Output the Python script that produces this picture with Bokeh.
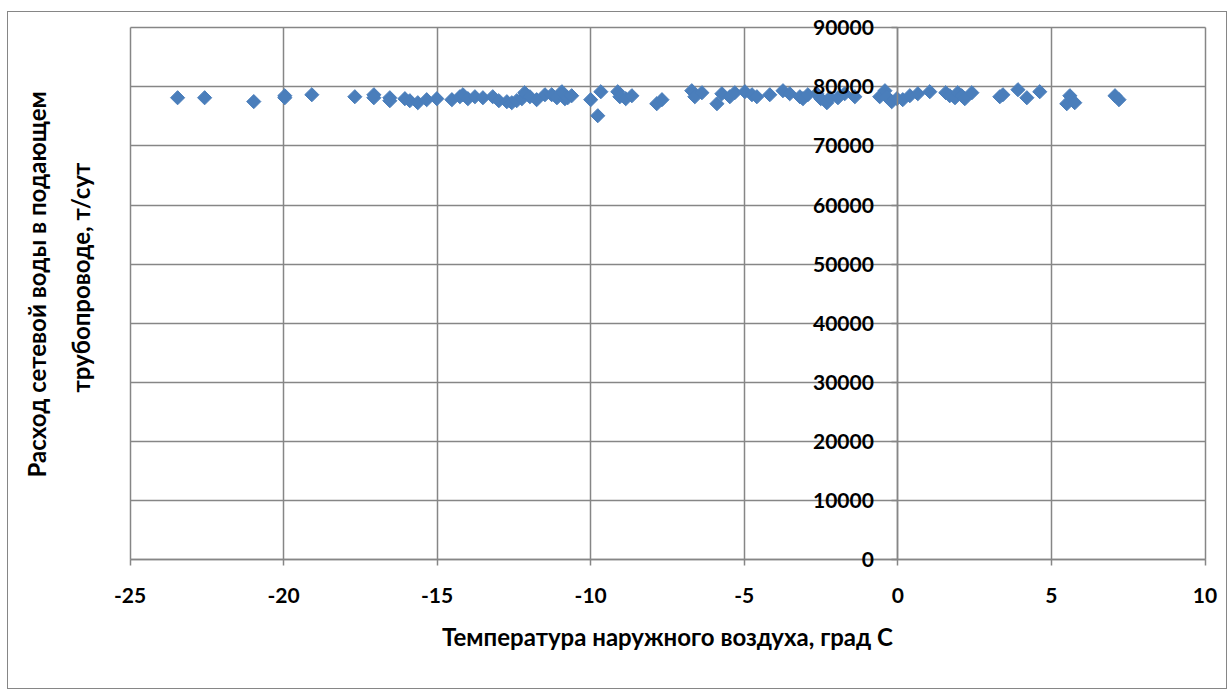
from bokeh.plotting import figure
from bokeh.models import LinearAxis, FixedTicker, Range1d, NumeralTickFormatter, Title
from bokeh.embed import file_html
from bokeh.resources import INLINE

temperature = [
    -23.45, -22.57, -20.97, -19.96, -19.96, -19.08, -17.68, -17.06, -17.06, -16.54,
    -16.54, -16.05, -15.89, -15.63, -15.34, -15.01, -14.52, -14.26, -14.16, -14.0,
    -13.77, -13.51, -13.19, -12.99, -12.73, -12.57, -12.41, -12.24, -12.15, -11.98,
    -11.76, -11.49, -11.27, -11.1, -10.94, -10.84, -10.75, -10.62, -10.0, -9.77,
    -9.67, -9.12, -9.05, -8.86, -8.66, -7.85, -7.68, -6.71, -6.61, -6.38,
    -5.89, -5.73, -5.47, -5.31, -4.98, -4.75, -4.59, -4.17, -3.74, -3.52,
    -3.19, -3.09, -2.93, -2.64, -2.51, -2.31, -2.21, -1.95, -1.73, -1.40,
    -0.59, -0.42, -0.36, -0.20, -0.03, 0.16, 0.39, 0.65, 1.04, 1.56,
    1.69, 1.86, 1.95, 2.08, 2.18, 2.41, 3.32, 3.42, 3.91, 4.20,
    4.62, 5.50, 5.60, 5.76, 7.07, 7.20,
]
flow = [
    78150, 78150, 77500, 78490, 78150, 78660, 78320, 78660, 78150, 78150,
    77650, 77990, 77650, 77310, 77820, 77990, 77820, 78320, 78660, 77990,
    78320, 78150, 78320, 77650, 77480, 77310, 77650, 77990, 79000, 78320,
    77820, 78660, 78660, 78150, 79170, 77990, 78150, 78490, 77820, 75110,
    79170, 79170, 78320, 77990, 78490, 77140, 77820, 79340, 78320, 79000,
    77140, 78830, 78320, 79000, 79170, 78660, 78320, 78660, 79340, 78830,
    78320, 77990, 78660, 78830, 77990, 77310, 78150, 78150, 78830, 78320,
    78320, 79340, 78320, 77480, 77990, 77820, 78490, 78830, 79170, 79000,
    78490, 78150, 79000, 78490, 77990, 79000, 78320, 78660, 79510, 78150,
    79170, 77140, 78490, 77310, 78490, 77820,
]

x_min, x_max = -25, 10
y_min, y_max = 0, 90000
x_ticks = [-25, -20, -15, -10, -5, 0, 5, 10]
y_ticks = [0, 10000, 20000, 30000, 40000, 50000, 60000, 70000, 80000, 90000]

x_title = "Температура наружного воздуха, град С"
y_title_lines = ["Расход сетевой воды в подающем", "трубопроводе, т/сут"]

GRAY = "#868686"
FONT = "Lato"

# the frame is a little larger than the gridded area so that the axes
# crossing inside it (at x = 0 and y = 0) keep their labels visible
p = figure(
    frame_width=1118, frame_height=603,
    x_range=Range1d(x_min - 0.7, x_max + 0.7), y_range=Range1d(y_min - 9600, y_max + 2400),
    output_backend="svg", toolbar_location=None,
    x_axis_location="below", y_axis_location=None,
    min_border_left=100, min_border_right=0, min_border_top=1, min_border_bottom=72,
    background_fill_color="white", border_fill_color="white",
)
p.outline_line_color = None

p.xgrid.ticker = FixedTicker(ticks=x_ticks)
p.xgrid.cross_bounds = (y_min, y_max)
p.ygrid.ticker = FixedTicker(ticks=y_ticks)
p.ygrid.cross_bounds = (x_min, x_max)
for g in (p.xgrid, p.ygrid):
    g.grid_line_color = GRAY
    g.grid_line_width = 1.5

# x title-only axis in the bottom panel
ax = p.xaxis[0]
ax.ticker = FixedTicker(ticks=[])
ax.axis_line_color = None
ax.major_tick_line_color = None
ax.minor_tick_line_color = None
ax.major_label_text_font_size = "0px"
ax.axis_label = x_title
ax.axis_label_text_font = FONT
ax.axis_label_text_font_style = "bold"
ax.axis_label_text_font_size = "24px"
ax.axis_label_text_color = "black"
ax.axis_label_standoff = 5

# y title, two lines, each centred on the gridded area (inner line first)
for text, offset, standoff in ((y_title_lines[1], 224, 27), (y_title_lines[0], 139, 0)):
    p.add_layout(Title(
        text=text, align="left", offset=offset, standoff=standoff,
        text_font=FONT, text_font_style="bold", text_font_size="24px",
        text_color="black",
    ), "left")


def crossing_axis(ticks, bounds, standoff):
    return LinearAxis(
        fixed_location=0, ticker=FixedTicker(ticks=ticks), bounds=bounds,
        formatter=NumeralTickFormatter(format="0"),
        axis_line_color=GRAY, axis_line_width=1.5,
        major_tick_line_color=GRAY, major_tick_line_width=1.5,
        major_tick_out=6, major_tick_in=0, minor_tick_line_color=None,
        major_label_text_font=FONT, major_label_text_font_style="bold",
        major_label_text_font_size="21px", major_label_text_color="black",
        major_label_standoff=standoff,
    )


p.add_layout(crossing_axis(x_ticks, (x_min, x_max), 22), "below")
p.add_layout(crossing_axis(y_ticks, (y_min, y_max), 18), "left")

p.scatter(temperature, flow, marker="square", angle=0.785398, size=10,
          fill_color="#4A7EBB", line_color="#4A7EBB")

p.styles = {"border": "1.5px solid #868686", "margin-left": "7px", "margin-top": "11px"}

open("out.html", "w").write(file_html(p, INLINE))
